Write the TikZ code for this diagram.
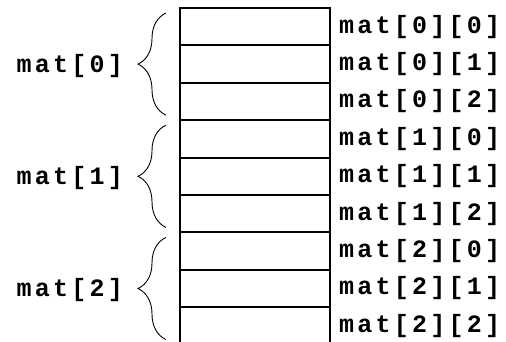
\documentclass[tikz,border=0pt]{standalone}
\usepackage{fontspec}
\newfontfamily\codefont{Liberation Mono}[LetterSpace=13]
\usetikzlibrary{positioning}
\usetikzlibrary{decorations.pathreplacing}

\tikzset{
	cell/.style={draw, line width=2pt, minimum width=150pt, minimum height=37.4pt, inner sep=0pt, outer sep=0pt},
	idx/.style={font=\fontsize{25}{28}\selectfont\codefont\bfseries, inner sep=0pt},
	grp/.style={decorate, decoration={brace, amplitude=28pt}, line width=0.9pt}
}

\begin{document}
\begin{tikzpicture}
\useasboundingbox (0,0) rectangle (506pt,-341pt);

\node[cell] (c00) at (255pt,-26.7pt) {};
\node[cell, below=0pt of c00] (c01) {};
\node[cell, below=0pt of c01] (c02) {};
\node[cell, below=0pt of c02] (c10) {};
\node[cell, below=0pt of c10] (c11) {};
\node[cell, below=0pt of c11] (c12) {};
\node[cell, below=0pt of c12] (c20) {};
\node[cell, below=0pt of c20] (c21) {};
\node[cell, below=0pt of c21] (c22) {};

\node[idx, right=9pt of c00] (l00) {mat[0][0]};
\node[idx, right=9pt of c01] (l01) {mat[0][1]};
\node[idx, right=9pt of c02] (l02) {mat[0][2]};
\node[idx, right=9pt of c10] (l10) {mat[1][0]};
\node[idx, right=9pt of c11] (l11) {mat[1][1]};
\node[idx, right=9pt of c12] (l12) {mat[1][2]};
\node[idx, right=9pt of c20] (l20) {mat[2][0]};
\node[idx, right=9pt of c21] (l21) {mat[2][1]};
\node[idx, right=9pt of c22] (l22) {mat[2][2]};

\node[idx, left=57pt of c01, yshift=-2pt] (r0) {mat[0]};
\node[idx, left=57pt of c11, yshift=-2pt] (r1) {mat[1]};
\node[idx, left=57pt of c21, yshift=-2pt] (r2) {mat[2]};

\draw[grp] ([xshift=-14pt,yshift=5pt]c02.south west) -- ([xshift=-14pt,yshift=-5pt]c00.north west);
\draw[grp] ([xshift=-14pt,yshift=5pt]c12.south west) -- ([xshift=-14pt,yshift=-5pt]c10.north west);
\draw[grp] ([xshift=-14pt,yshift=5pt]c22.south west) -- ([xshift=-14pt,yshift=-5pt]c20.north west);
\end{tikzpicture}
\end{document}
